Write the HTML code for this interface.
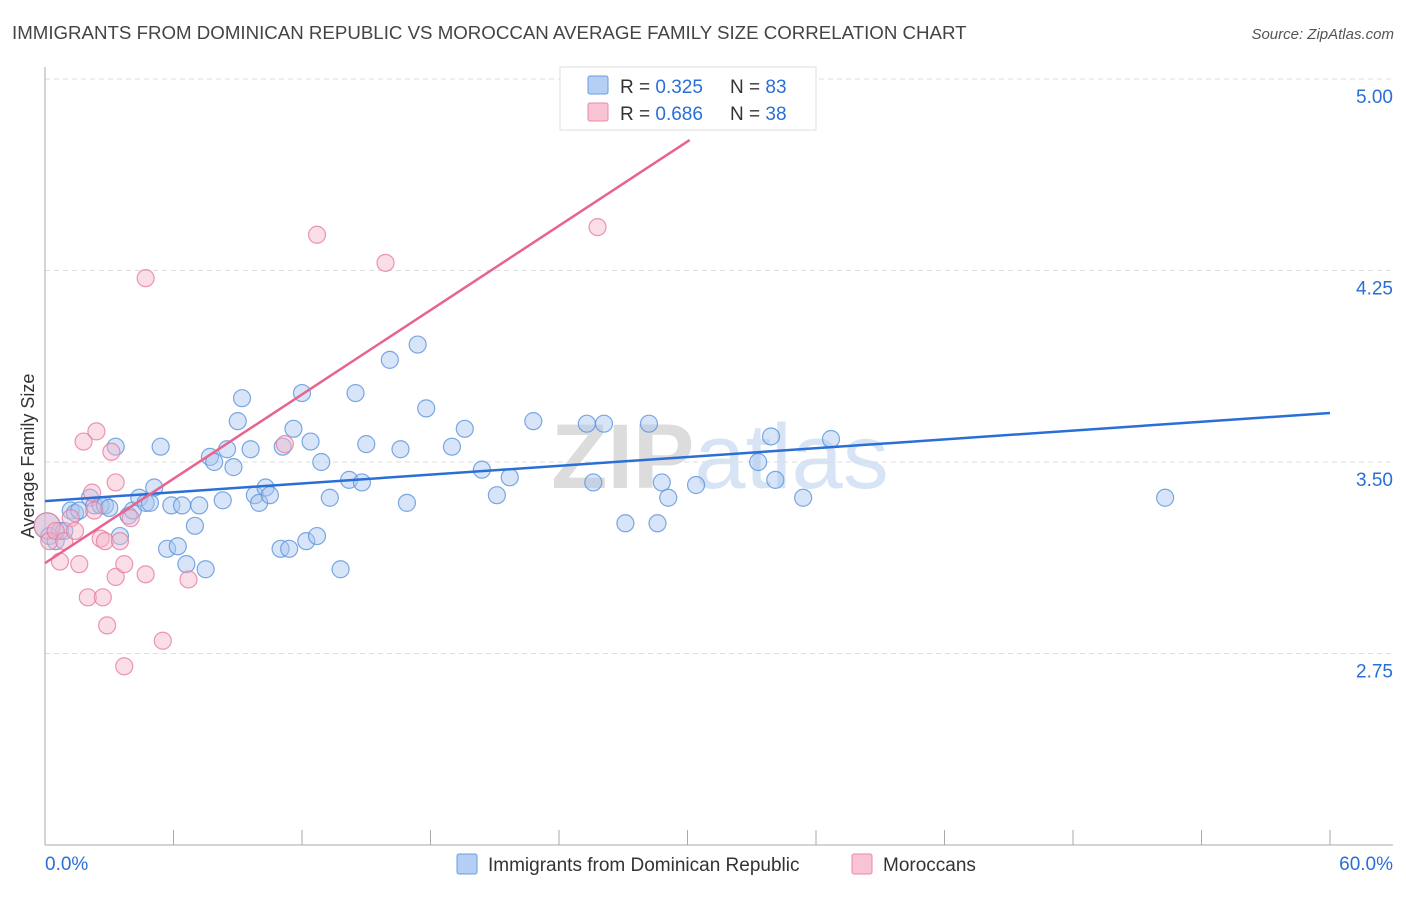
<!DOCTYPE html>
<html><head><meta charset="utf-8"><style>
body{margin:0;background:#fff;font-family:"Liberation Sans",sans-serif;}
svg text{font-family:"Liberation Sans",sans-serif;}
</style></head><body>
<svg id="chart" width="1406" height="892" viewBox="0 0 1406 892" xmlns="http://www.w3.org/2000/svg">
<text x="12" y="39" font-size="18.7" fill="#444">IMMIGRANTS FROM DOMINICAN REPUBLIC VS MOROCCAN AVERAGE FAMILY SIZE CORRELATION CHART</text>
<text x="1394" y="39" font-size="15" fill="#555" text-anchor="end" font-style="italic">Source: ZipAtlas.com</text>
<text x="720" y="488" font-size="92" fill="#e6e6e6" text-anchor="middle" font-family="Liberation Serif"><tspan font-weight="bold" fill="#dcdcdc">ZIP</tspan><tspan fill="#d6e4f5">atlas</tspan></text>
<g id="grid"></g>
<g id="axes"></g>
<g id="marks"></g>
<text transform="translate(34,456) rotate(-90)" font-size="18" fill="#333" text-anchor="middle">Average Family Size</text>
<g>
<rect x="560" y="67" width="256" height="63" fill="#fff" stroke="#ddd"/>
<rect x="588" y="76" width="20" height="18" fill="#b4cff3" stroke="#6a9ee0" rx="2"/>
<rect x="588" y="103" width="20" height="18" fill="#f8c4d4" stroke="#e88aa8" rx="2"/>
<text x="620" y="93" font-size="19" fill="#333">R = <tspan fill="#2a6fd6">0.325</tspan></text>
<text x="730" y="93" font-size="19" fill="#333">N = <tspan fill="#2a6fd6">83</tspan></text>
<text x="620" y="120" font-size="19" fill="#333">R = <tspan fill="#2a6fd6">0.686</tspan></text>
<text x="730" y="120" font-size="19" fill="#333">N = <tspan fill="#2a6fd6">38</tspan></text>
</g>
<g>
<rect x="457" y="854" width="20" height="20" fill="#b4cff3" stroke="#6a9ee0" rx="2"/>
<text x="488" y="871" font-size="19" fill="#333">Immigrants from Dominican Republic</text>
<rect x="852" y="854" width="20" height="20" fill="#f8c4d4" stroke="#e88aa8" rx="2"/>
<text x="883" y="871" font-size="19" fill="#333">Moroccans</text>
</g>
</svg>
<script>
const yTicks=[5.00,4.25,3.50,2.75];
const yTickLabels=["5.00","4.25","3.50","2.75"];
const xTickLabels=["0.0%","60.0%"];
const blueX=[0.1,0.2,0.5,0.7,0.9,1.2,1.4,1.6,2.1,2.3,2.6,2.8,3.0,3.3,3.5,3.9,4.1,4.4,4.7,4.9,5.1,5.4,5.7,5.9,6.2,6.4,6.6,7.0,7.2,7.5,7.7,7.9,8.3,8.5,8.8,9.0,9.2,9.6,9.8,10.0,10.3,10.5,11.0,11.1,11.4,11.6,12.0,12.2,12.4,12.7,12.9,13.3,13.8,14.2,14.5,14.8,15.0,16.1,16.6,16.9,17.4,17.8,19.0,19.6,20.4,21.1,21.7,22.8,25.3,25.6,26.1,27.1,28.2,28.6,28.8,29.1,30.4,33.3,33.9,34.1,35.4,36.7,52.3];
const blueY=[3.25,3.21,3.19,3.23,3.23,3.31,3.30,3.31,3.36,3.33,3.33,3.33,3.32,3.56,3.21,3.29,3.31,3.36,3.34,3.34,3.40,3.56,3.16,3.33,3.17,3.33,3.10,3.25,3.33,3.08,3.52,3.50,3.35,3.55,3.48,3.66,3.75,3.55,3.37,3.34,3.40,3.37,3.16,3.56,3.16,3.63,3.77,3.19,3.58,3.21,3.50,3.36,3.08,3.43,3.77,3.42,3.57,3.90,3.55,3.34,3.96,3.71,3.56,3.63,3.47,3.37,3.44,3.66,3.65,3.42,3.65,3.26,3.65,3.26,3.42,3.36,3.41,3.50,3.60,3.43,3.36,3.59,3.36];
const pinkX=[0.1,0.2,0.5,0.7,0.9,1.2,1.4,1.6,1.8,2.0,2.2,2.3,2.4,2.6,2.7,2.8,2.9,3.1,3.3,3.3,3.5,3.7,3.7,4.0,4.7,4.7,5.5,6.7,11.2,12.7,15.9,25.8];
const pinkY=[3.25,3.19,3.23,3.11,3.19,3.28,3.23,3.10,3.58,2.97,3.38,3.31,3.62,3.20,2.97,3.19,2.86,3.54,3.05,3.42,3.19,3.10,2.70,3.28,4.22,3.06,2.80,3.04,3.57,4.39,4.28,4.42];
const blueLine=[[0,3.347],[60,3.692]];
const pinkLine=[[0,3.104],[30.1,4.761]];
const NS="http://www.w3.org/2000/svg";
const X0=45,X1=1330,YB=462,PXU=255.33;
function sx(v){return X0+(v/60)*(X1-X0);}
function sy(v){return YB-(v-3.5)*PXU;}
function mk(tag,attrs,parent){const e=document.createElementNS(NS,tag);for(const k in attrs)e.setAttribute(k,attrs[k]);document.getElementById(parent).appendChild(e);return e;}
yTicks.forEach((t,i)=>{
 const g=mk('line',{x1:45,x2:1393,y1:sy(t),y2:sy(t),stroke:'#ddd','stroke-dasharray':'5,4'},'grid');
 
 
 const l=mk('text',{x:1393,y:sy(t)+24,'font-size':19,fill:'#2a6fd6','text-anchor':'end'},'axes');
 l.textContent=yTickLabels[i];
 
 
});
const ax=mk('line',{x1:45,x2:45,y1:67,y2:845,stroke:'#aaa'},'axes');


const bx=mk('line',{x1:45,x2:1393,y1:845,y2:845,stroke:'#aaa'},'axes');


for(let i=0;i<=10;i++){const t=mk('line',{x1:sx(i*6),x2:sx(i*6),y1:830,y2:845,stroke:'#aaa'},'axes');
 
 }
const xl0=mk('text',{x:45,y:870,'font-size':19,fill:'#2a6fd6'},'axes');xl0.textContent=xTickLabels[0];


const xl1=mk('text',{x:1393,y:870,'font-size':19,fill:'#2a6fd6','text-anchor':'end'},'axes');xl1.textContent=xTickLabels[1];


function dots(xs,ys,fill,stroke,name){xs.forEach((x,i)=>{const c=mk('circle',{cx:sx(x),cy:sy(ys[i]),r:i===0?13:8.5,fill:fill,'fill-opacity':0.45,stroke:stroke,'stroke-width':1.2,'stroke-opacity':0.8},'marks');
 
 });}
dots(blueX,blueY,'#a8c6ef','#5b93dc','point-dominican');
dots(pinkX,pinkY,'#f5b5c9','#e67d9f','point-moroccan');
const bl=mk('line',{x1:sx(blueLine[0][0]),y1:sy(blueLine[0][1]),x2:sx(blueLine[1][0]),y2:sy(blueLine[1][1]),stroke:'#2a6fd6','stroke-width':2.5},'marks');


const pl=mk('line',{x1:sx(pinkLine[0][0]),y1:sy(pinkLine[0][1]),x2:sx(pinkLine[1][0]),y2:sy(pinkLine[1][1]),stroke:'#e8638e','stroke-width':2.5},'marks');


</script>
</body></html>
